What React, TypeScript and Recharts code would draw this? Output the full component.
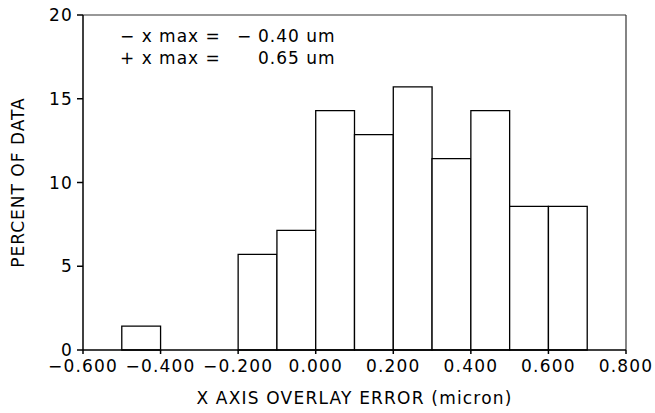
import React from "react";
import {
  ComposedChart,
  XAxis,
  YAxis,
  Line,
  ReferenceArea,
  ReferenceLine,
} from "recharts";

// histogram bins (micron) and percent of data in each
const binStart = [-0.5, -0.2, -0.1, 0.0, 0.1, 0.2, 0.3, 0.4, 0.5, 0.6];
const binEnd = [-0.4, -0.1, 0.0, 0.1, 0.2, 0.3, 0.4, 0.5, 0.6, 0.7];
const percent = [1.43, 5.71, 7.14, 14.29, 12.86, 15.71, 11.43, 14.29, 8.57, 8.57];

const xTicks = [-0.6, -0.4, -0.2, 0.0, 0.2, 0.4, 0.6, 0.8];
const yTicks = [0, 5, 10, 15, 20];

const legendLines = [
  { label: "− x max =", sign: "−", value: "0.40 um" },
  { label: "+ x max =", sign: "", value: "0.65 um" },
];

const bins = binStart.map((lo, i) => ({
  lo,
  hi: binEnd[i],
  mid: (lo + binEnd[i]) / 2,
  pct: percent[i],
}));

const font = "'DejaVu Sans', sans-serif";
const tickStyle = { fontSize: 17, fill: "#000", fontFamily: font, letterSpacing: 1.2 };

const fmtX = (v: number) => {
  const s = Math.abs(v).toFixed(3);
  return v < -1e-9 ? "−" + s : s;
};

export default function App() {
  return (
    <div style={{ position: "absolute", left: 0, top: 0, width: 655, height: 413, background: "#fff" }}>
      <ComposedChart
        width={655}
        height={413}
        data={bins}
        margin={{ top: 15, right: 29, left: 0, bottom: 0 }}
      >
        <XAxis
          dataKey="mid"
          type="number"
          domain={[-0.6, 0.8]}
          ticks={xTicks}
          tickFormatter={fmtX}
          allowDataOverflow
          height={63}
          stroke="#000"
          strokeWidth={1.5}
          tickSize={4}
          tickMargin={6}
          tick={tickStyle}
          label={{
            value: "X AXIS OVERLAY ERROR (micron)",
            position: "insideBottom",
            offset: 9,
            style: { fontSize: 17, fill: "#000", fontFamily: font, letterSpacing: 1.2 },
          }}
        />
        <YAxis
          type="number"
          domain={[0, 20]}
          ticks={yTicks}
          width={83}
          stroke="#000"
          strokeWidth={1.5}
          tickSize={6}
          tickMargin={4}
          tick={tickStyle}
          label={{
            value: "PERCENT OF DATA",
            angle: -90,
            position: "insideLeft",
            offset: 18,
            style: { fontSize: 17, fill: "#000", fontFamily: font, letterSpacing: 1, textAnchor: "middle" },
          }}
        />
        {bins.map((b) => (
          <ReferenceArea
            key={b.lo}
            x1={b.lo}
            x2={b.hi}
            y1={0}
            y2={b.pct}
            fill="#fff"
            fillOpacity={1}
            stroke="#000"
            strokeWidth={1.3}
          />
        ))}
        {/* frame: top and right edges */}
        <ReferenceLine y={20} stroke="#333" strokeWidth={1.2} />
        <ReferenceLine x={0.8} stroke="#333" strokeWidth={1.2} />
        <Line dataKey="pct" stroke="none" dot={false} isAnimationActive={false} />
      </ComposedChart>
      <svg width={655} height={413} style={{ position: "absolute", left: 0, top: 0, pointerEvents: "none" }}>
        {legendLines.map((l, i) => (
          <g key={i} fontFamily={font} fontSize={17} fill="#000" letterSpacing={1}>
            <text x={120} y={42 + i * 22}>{l.label}</text>
            <text x={237} y={42 + i * 22}>{l.sign}</text>
            <text x={258} y={42 + i * 22}>{l.value}</text>
          </g>
        ))}
      </svg>
    </div>
  );
}
